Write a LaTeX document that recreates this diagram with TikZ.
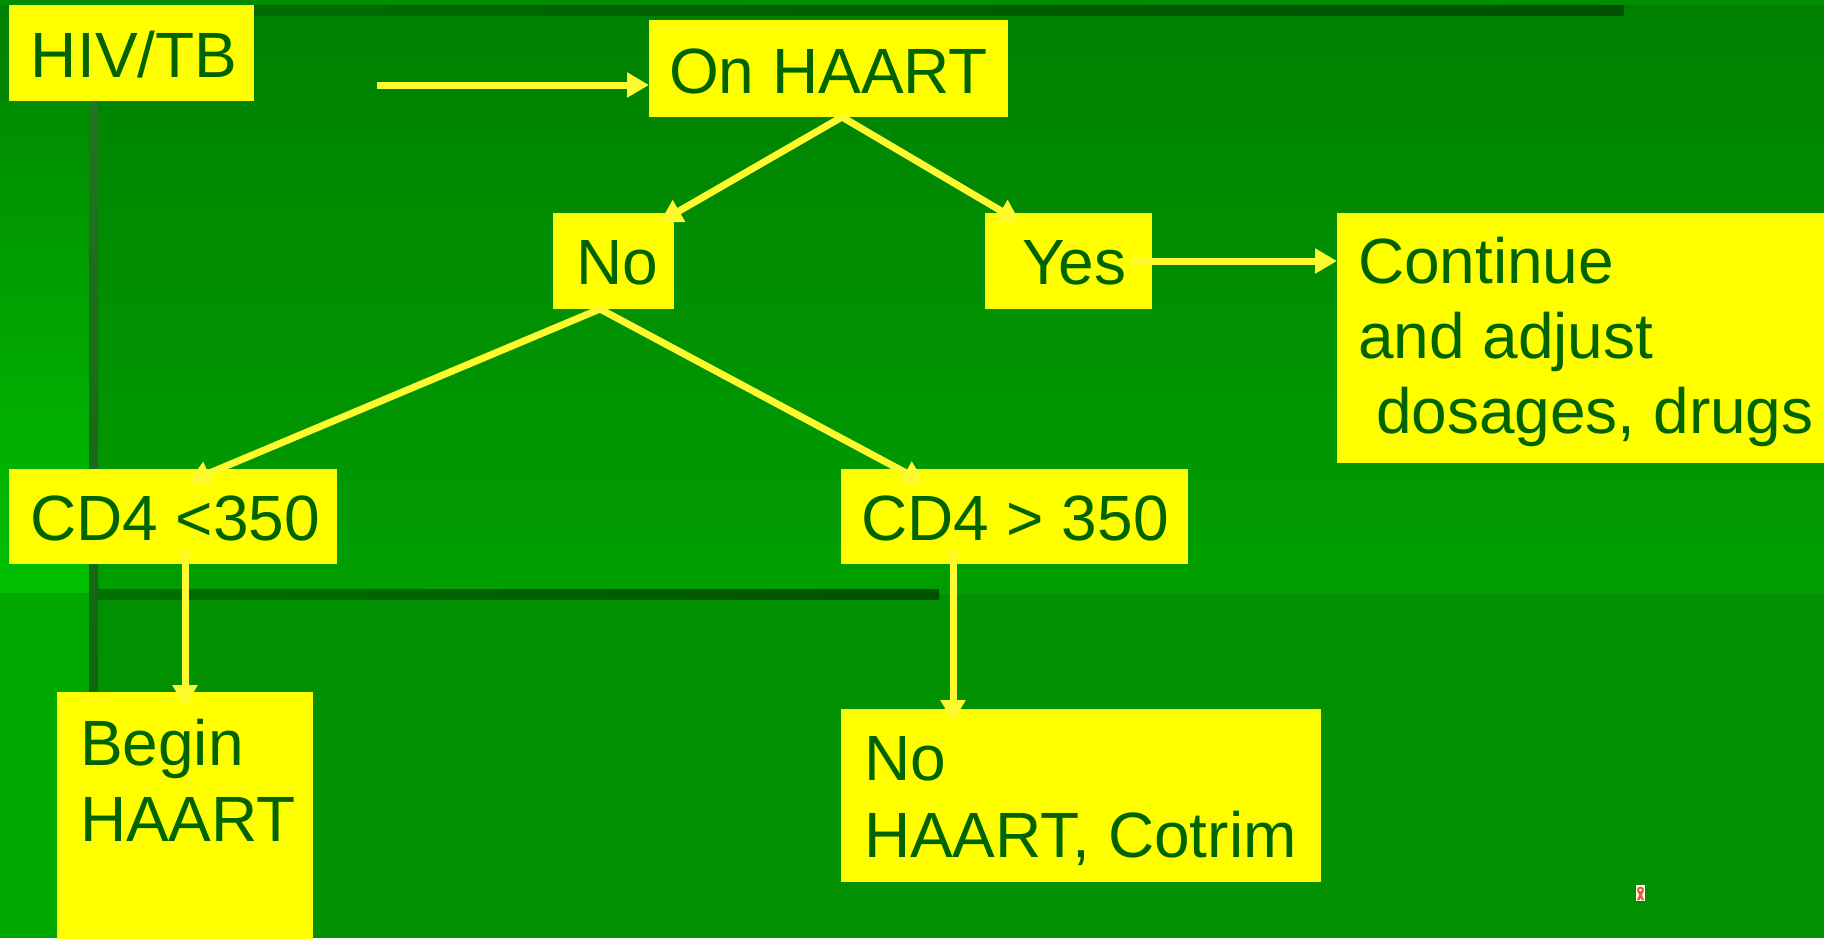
\documentclass[tikz,border=0pt]{standalone}
\usepackage{fontspec}
\setmainfont{Liberation Sans}
\usetikzlibrary{arrows.meta,calc}
\definecolor{bgtop}{RGB}{0,128,0}
\definecolor{bgmid}{RGB}{0,158,0}
\definecolor{bglow}{RGB}{0,144,0}
\definecolor{striptop}{RGB}{0,140,0}
\definecolor{stripbot}{RGB}{0,192,0}
\definecolor{striplow}{RGB}{0,168,0}
\definecolor{darkA}{RGB}{0,112,0}
\definecolor{darkB}{RGB}{0,80,0}
\definecolor{vlineA}{RGB}{36,114,36}
\definecolor{vlineB}{RGB}{16,100,16}
\definecolor{boxyellow}{RGB}{255,255,0}
\definecolor{arrowyellow}{RGB}{255,250,48}
\definecolor{textgreen}{RGB}{0,100,0}
\definecolor{ribbon}{RGB}{220,100,40}
\tikzset{
  box/.style={fill=boxyellow, draw=none, inner sep=0pt, outer sep=0pt, anchor=north west},
  txt/.style={anchor=base west, inner sep=0pt, outer sep=0pt, text=textgreen,
              font=\fontsize{32}{38}\selectfont},
  arr/.style={draw=arrowyellow, line width=3.5pt,
              -{Triangle[length=11pt,width=12pt]}}
}
\begin{document}
\begin{tikzpicture}[x=0.5pt,y=-0.5pt]
\useasboundingbox (0,0) rectangle (1824,938);
% background
\fill[bglow] (0,0) rectangle (1824,938);
\shade[top color=bgtop, bottom color=bgmid] (0,0) rectangle (1824,593);
\fill[striptop] (0,0) rectangle (1824,5);
\shade[top color=striptop, bottom color=stripbot] (0,101) rectangle (89,593);
\fill[striplow] (0,593) rectangle (89,938);
\shade[left color=darkA, right color=darkB] (9,5) rectangle (1624,15);
\shade[left color=darkA, right color=darkB] (89,589) rectangle (939,599);
\shade[top color=vlineA, bottom color=vlineB] (89,101) rectangle (98,700);
% ribbon logo
\fill[white] (1636,885) rectangle (1645,901);
\draw[ribbon, line width=1pt] (1640.5,890) circle (2.5);
\draw[ribbon, line width=1.2pt] (1639,892) -- (1643,900) (1642,892) -- (1638,900);
% boxes
\node[box, minimum width=122.5pt, minimum height=48pt] (hiv) at (9,5) {};
\node[box, minimum width=179.5pt, minimum height=48.5pt] (onhaart) at (649,20) {};
\node[box, minimum width=60.5pt, minimum height=48pt] (no) at (553,213) {};
\node[box, minimum width=83.5pt, minimum height=48pt] (yes) at (985,213) {};
\node[box, minimum width=250pt, minimum height=125pt] (cont) at (1337,213) {};
\node[box, minimum width=164pt, minimum height=47.5pt] (cda) at (9,469) {};
\node[box, minimum width=173.5pt, minimum height=47.5pt] (cdb) at (841,469) {};
\node[box, minimum width=128pt, minimum height=130pt] (begin) at (57,692) {};
\node[box, minimum width=240pt, minimum height=86.5pt] (nohaart) at (841,709) {};
% connectors
\coordinate (hivout) at (377,85);
\draw[arr] (hivout) -- (onhaart.west |- hivout);
\draw[arr] ($(onhaart.south)+(13.5,0)$) -- ($(no.north)+(46.5,9)$);
\draw[arr] ($(onhaart.south)+(13.5,0)$) -- ($(yes.north)+(-48.5,9)$);
\draw[arr] ($(no.south)+(-13.5,0)$) -- ($(cda.north)+(15,13)$);
\draw[arr] ($(no.south)+(-13.5,0)$) -- ($(cdb.north)+(-89.5,14)$);
\draw[arr] ($(cda.south)+(12,-15)$) -- ($(begin.north)+(0,15)$);
\draw[arr] ($(cdb.south)+(-61.5,-15)$) -- ($(nohaart.north)+(-128,13)$);
\draw[arr] ($(yes.east)+(-20,0)$) -- (cont.west |- yes.east);
% texts
\node[txt] (hivT) at (31,77) {HIV/TB};
\node[txt, anchor=base] (onT) at (828.5,93) {On HAART};
\node[txt] (noT) at (576,284) {No};
\node[txt] (yesT) at (1022,284) {Yes};
\node[txt] (contA) at (1358,283) {Continue};
\node[txt] (contB) at (1358,358) {and adjust};
\node[txt] (contC) at (1376,433) {dosages, drugs};
\node[txt] (cdaT) at (30,540) {CD4 <350};
\node[txt] (cdbT) at (861,540) {CD4 > 350};
\node[txt] (beginA) at (80,765) {Begin};
\node[txt] (beginB) at (80,841) {HAART};
\node[txt] (nohA) at (864,780) {No};
\node[txt] (nohB) at (864,857) {HAART, Cotrim};
\end{tikzpicture}
\end{document}
